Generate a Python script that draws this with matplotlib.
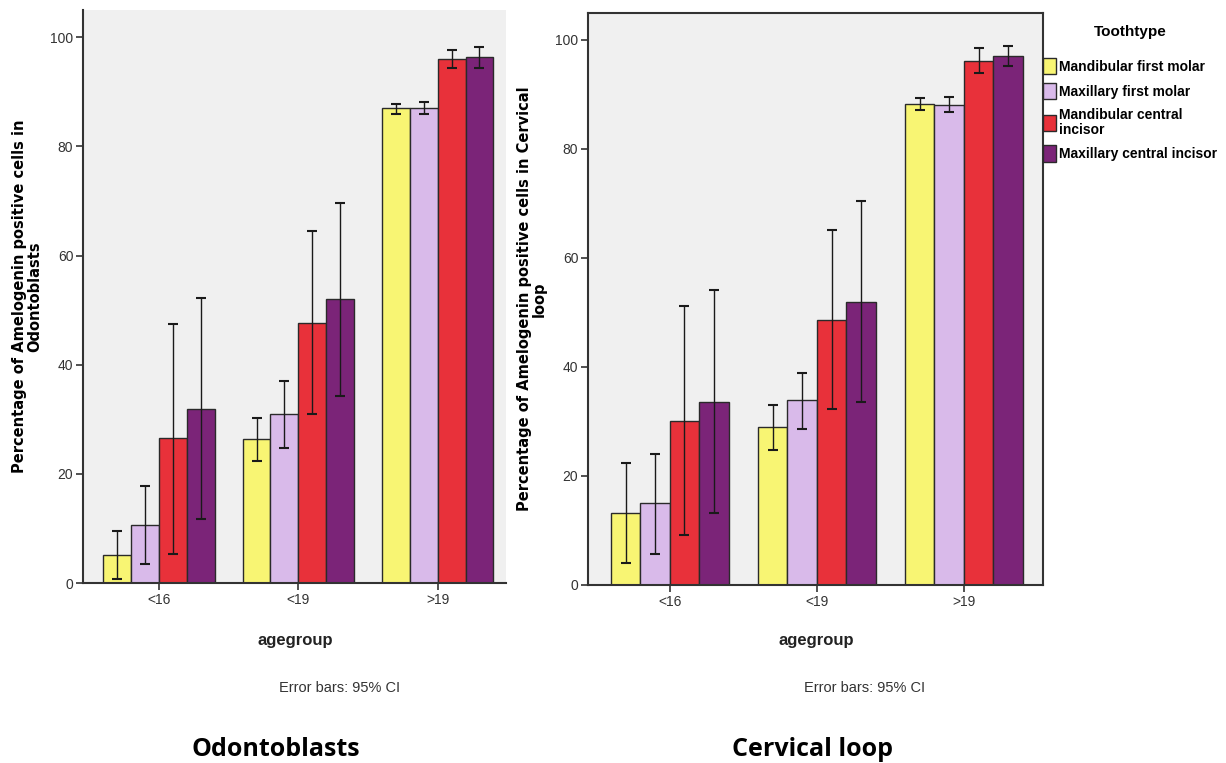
import numpy as np
import matplotlib.pyplot as plt
from matplotlib.patches import Patch

# data (means and 95% CI bounds)
agegroups = ['<16', '<19', '>19']
toothtypes = ['Mandibular first molar', 'Maxillary first molar',
              'Mandibular central\nincisor', 'Maxillary central incisor']
colors = ['#F8F573', '#D9BAEA', '#E8313A', '#7B2478']

odonto_mean = [[5.1, 26.3, 87.0],
               [10.6, 30.9, 87.1],
               [26.6, 47.7, 96.1],
               [31.9, 52.0, 96.3]]
odonto_lo = [[0.8, 22.4, 85.9],
             [3.5, 24.7, 86.0],
             [5.4, 30.9, 94.4],
             [11.7, 34.2, 94.3]]
odonto_hi = [[9.6, 30.2, 87.8],
             [17.7, 37.1, 88.1],
             [47.5, 64.5, 97.7],
             [52.2, 69.7, 98.2]]

cervical_mean = [[13.3, 28.9, 88.2],
                 [15.0, 33.9, 88.1],
                 [30.0, 48.7, 96.1],
                 [33.6, 52.0, 97.1]]
cervical_lo = [[4.1, 24.7, 87.1],
               [5.7, 28.6, 86.7],
               [9.1, 32.3, 93.9],
               [13.2, 33.5, 95.3]]
cervical_hi = [[22.3, 33.0, 89.3],
               [24.1, 38.9, 89.5],
               [51.1, 65.2, 98.5],
               [54.1, 70.4, 98.9]]

narrow = ['Liberation Sans Narrow', 'Liberation Sans', 'DejaVu Sans']

fig = plt.figure(figsize=(12.26, 7.63), dpi=100)


def draw(ax, mean, lo, hi, ylabel, xlim):
    ax.set_facecolor('#F0F0F0')
    x = np.arange(len(agegroups))
    w = 0.2
    for i in range(4):
        m = np.array(mean[i])
        err = np.array([m - np.array(lo[i]), np.array(hi[i]) - m])
        ax.bar(x + (i - 1.5) * w, m, w, color=colors[i], edgecolor='#2a2a2a',
               linewidth=1.0, zorder=2)
        ax.errorbar(x + (i - 1.5) * w, m, yerr=err, fmt='none', ecolor='#1a1a1a',
                    elinewidth=1.0, capsize=3.5, capthick=1.5, zorder=3)
    ax.set_xlim(*xlim)
    ax.set_ylim(0, 105)
    ax.set_xticks(x)
    ax.set_xticklabels(agegroups, family=narrow, fontsize=10, color='#333333')
    ax.set_yticks([0, 20, 40, 60, 80, 100])
    ax.set_yticklabels(['0', '20', '40', '60', '80', '100'], family=narrow,
                       fontsize=10, color='#333333')
    ax.tick_params(direction='out', length=5, width=1.2, color='#333333', pad=2)
    for s in ax.spines.values():
        s.set_linewidth(1.5)
        s.set_color('#333333')
    ax.set_ylabel(ylabel, fontsize=10.5, fontweight='bold', family='DejaVu Sans',
                  linespacing=1.0, labelpad=6)


ax1 = fig.add_axes([0.0677, 0.2359, 0.345, 0.751])
draw(ax1, odonto_mean, odonto_lo, odonto_hi,
     'Percentage of Amelogenin positive cells in\nOdontoblasts', (-0.545, 2.49))
ax1.spines['top'].set_visible(False)
ax1.spines['right'].set_visible(False)

ax2 = fig.add_axes([0.4796, 0.2333, 0.371, 0.750])
draw(ax2, cervical_mean, cervical_lo, cervical_hi,
     'Percentage of Amelogenin positive cells in Cervical\nloop', (-0.556, 2.537))

# x titles, notes and panel names
for xc, xn, xt, name in [(295, 340, 276, 'Odontoblasts'), (816, 865, 812, 'Cervical loop')]:
    fig.text(xc / 1226, 1 - 641 / 763, 'agegroup', ha='center', va='center',
             fontsize=12, fontweight='bold', family=narrow, color='#222222')
    fig.text(xn / 1226, 1 - 688 / 763, 'Error bars: 95% CI', ha='center',
             va='center', fontsize=10.5, family=narrow, color='#333333')
    fig.text(xt / 1226, 1 - 750 / 763, name, ha='center', va='center',
             fontsize=18, fontweight='bold', family=['Open Sans', 'DejaVu Sans'],
             color='black')

handles = [Patch(facecolor=c, edgecolor='#2a2a2a', linewidth=1.0) for c in colors]
leg = fig.legend(handles, toothtypes, loc='upper left', title='Toothtype',
                 bbox_to_anchor=(1043 / 1226, 1 - 25 / 763), frameon=False,
                 handlelength=0.9, handleheight=1.4, handletextpad=0.25,
                 labelspacing=0.62, borderaxespad=0, borderpad=0,
                 prop={'family': narrow, 'weight': 'bold', 'size': 10},
                 title_fontproperties={'family': narrow, 'weight': 'bold', 'size': 11})
leg._legend_box.sep = 14
for t in leg.get_texts():
    t.set_linespacing(1.1)

fig.savefig('out.png', dpi=100)
